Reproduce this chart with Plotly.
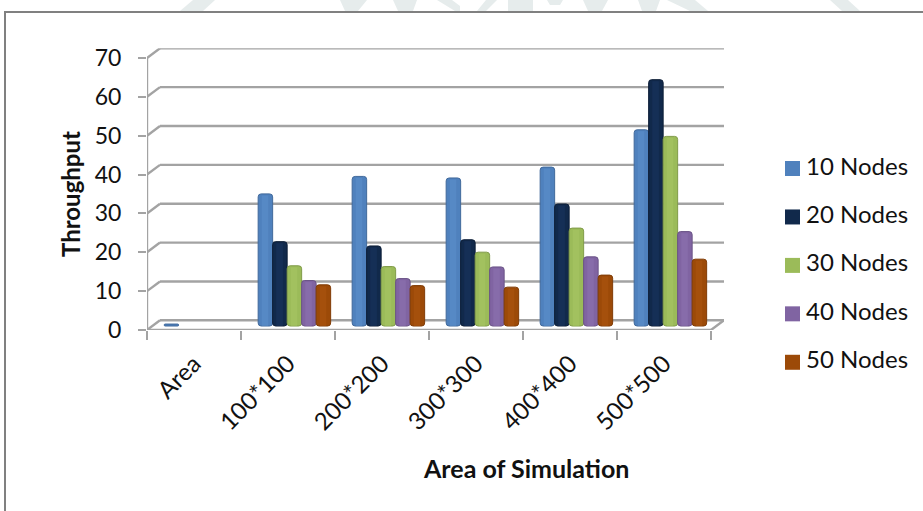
import plotly.graph_objects as go

categories = ["Area", "100*100", "200*200", "300*300", "400*400", "500*500"]
series_names = ["10 Nodes", "20 Nodes", "30 Nodes", "40 Nodes", "50 Nodes"]
nodes_10 = [0.5, 34.0, 38.5, 38.1, 40.9, 50.5]
nodes_20 = [None, 21.7, 20.6, 22.2, 31.4, 63.4]
nodes_30 = [None, 15.5, 15.3, 19.0, 25.2, 48.8]
nodes_40 = [None, 11.7, 12.2, 15.2, 17.8, 24.3]
nodes_50 = [None, 10.6, 10.4, 10.0, 13.1, 17.2]
series_values = [nodes_10, nodes_20, nodes_30, nodes_40, nodes_50]
y_ticks = [0, 10, 20, 30, 40, 50, 60, 70]

colors = ["#4F81BD", "#11294B", "#9BBB59", "#8064A2", "#9C4A08"]
edges = ["#41699B", "#0C1D36", "#809B49", "#6A5386", "#803C06"]
glows = ["#5C8FCC", "#1A3560", "#A8C765", "#8D72B0", "#AD5510"]

W, H = 923, 511
FONT = "Lato"
TEXT = "#111111"
GRID = "#A3A3A3"

# Pixel frame of the plot: front-left corner to back-right corner
px_left, px_right = 147, 724
px_top, px_bottom = 48.3, 330
cat_px = 94.0

# Oblique depth of the pseudo-3D box, in axis units
depth_x = 13 / cat_px
depth_y = 2.5
x_lo, x_hi = -0.5, len(categories) - 0.5
y_max = y_ticks[-1] + depth_y

# Bars stand a little inside the floor
bar_base = 1.03
bar_w = 14.5 / cat_px
bar_shift = 6.4 / cat_px

fig = go.Figure()
x_pos = list(range(len(categories)))

for i, (name, vals) in enumerate(zip(series_names, series_values)):
    off = (i - len(series_names) / 2) * bar_w + bar_shift
    # Body of each cylinder
    fig.add_bar(
        x=x_pos, y=vals, base=bar_base, name=name, width=bar_w, offset=off,
        marker=dict(color=colors[i], line=dict(color=edges[i], width=1), cornerradius=3),
        showlegend=False, hoverinfo="y",
    )
    # Soft highlight down the middle of each cylinder
    fig.add_bar(
        x=x_pos, y=[None if v is None or v < 2 else v - 0.4 for v in vals], base=bar_base,
        width=bar_w * 0.45, offset=off + bar_w * 0.25,
        marker=dict(color=glows[i], line=dict(width=0), opacity=0.55),
        showlegend=False, hoverinfo="skip",
    )
    # Key on the right: a square swatch and its label
    fig.add_scatter(
        x=[0], y=[i], mode="markers", xaxis="x2", yaxis="y2",
        marker=dict(symbol="square", size=15, color=colors[i]),
        cliponaxis=False, showlegend=False, hoverinfo="skip",
    )
    fig.add_scatter(
        x=[0.11], y=[i], mode="text", xaxis="x2", yaxis="y2",
        text=[name], textposition="middle right",
        textfont=dict(family=FONT, size=24, color=TEXT),
        cliponaxis=False, showlegend=False, hoverinfo="skip",
    )

shapes = []


def paper_path(points):
    """Closed path through pixel points, expressed in paper coordinates."""
    parts = [f"{'M' if k == 0 else 'L'} {x / W} {1 - y / H}" for k, (x, y) in enumerate(points)]
    return " ".join(parts) + " Z"


# Faint logo showing above the chart border
logo_pieces = [
    [(180, 11), (193, 0), (215, 0), (203, 11)],
    [(340, 0), (367, 0), (358, 11), (345, 11)],
    [(393, 0), (417, 0), (413, 11), (398, 11)],
    [(437, 0), (452, 0), (460, 6), (460, 11), (455, 11)],
    [(486, 0), (497, 0), (486, 11), (477, 11)],
    [(508, 0), (533, 0), (533, 11), (508, 11)],
    [(547, 0), (563, 0), (560, 5), (550, 5)],
    [(583, 0), (608, 0), (602, 11), (588, 11)],
    [(638, 0), (660, 0), (656, 11), (642, 11)],
    [(667, 0), (695, 0), (708, 11), (690, 11)],
    [(830, 0), (848, 0), (860, 11), (842, 11)],
]
for piece in logo_pieces:
    shapes.append(dict(type="path", xref="paper", yref="paper", layer="below",
                       path=paper_path(piece), fillcolor="#E6ECEC", line=dict(width=0)))

line = dict(color=GRID, width=2.4)
# Back-wall gridlines and the short diagonals that join them to the value axis
for v in y_ticks:
    shapes.append(dict(type="line", xref="x", yref="y", layer="below", line=line,
                       x0=x_lo, y0=v, x1=x_lo + depth_x, y1=v + depth_y))
    shapes.append(dict(type="line", xref="x", yref="y", layer="below", line=line,
                       x0=x_lo + depth_x, y0=v + depth_y, x1=x_hi + depth_x, y1=v + depth_y))
# Value axis, floor front edge and right floor diagonal
shapes.append(dict(type="line", xref="x", yref="y", layer="below", line=line,
                   x0=x_lo, y0=0, x1=x_lo, y1=y_ticks[-1]))
shapes.append(dict(type="line", xref="x", yref="y", layer="below", line=line,
                   x0=x_lo, y0=0, x1=x_hi, y1=0))
shapes.append(dict(type="line", xref="x", yref="y", layer="below", line=line,
                   x0=x_hi, y0=0, x1=x_hi + depth_x, y1=depth_y))
# Outer chart border, open towards the right and bottom of the page
shapes.append(dict(type="path", xref="paper", yref="paper", layer="below",
                   path=f"M {5/W} 0 L {5/W} {1-12/H} L 1 {1-12/H}",
                   line=dict(color="#808080", width=2)))

fig.update_layout(
    width=W, height=H,
    margin=dict(l=0, r=0, t=0, b=0),
    paper_bgcolor="white", plot_bgcolor="rgba(0,0,0,0)",
    barmode="overlay", showlegend=False,
    font=dict(family=FONT, size=23, color=TEXT),
    shapes=shapes,
    xaxis=dict(
        automargin=False,
        domain=[px_left / W, px_right / W],
        range=[x_lo, x_hi + depth_x],
        tickmode="array", tickvals=x_pos, ticktext=categories, tickangle=-45,
        ticks="", showgrid=False, zeroline=False, showline=False,
        ticklabelstandoff=14,
        tickfont=dict(family=FONT, size=24, color=TEXT),
        minor=dict(tickmode="array", tickvals=[p - 0.5 for p in x_pos] + [x_hi],
                   ticks="outside", ticklen=9, tickwidth=2, tickcolor=GRID, showgrid=False),
    ),
    yaxis=dict(
        automargin=False,
        domain=[(H - px_bottom) / H, (H - px_top) / H],
        range=[0, y_max],
        tickmode="array", tickvals=y_ticks, ticks="outside", ticklen=8, tickwidth=2,
        tickcolor=GRID, showgrid=False, zeroline=False, showline=False,
        ticklabelstandoff=12,
        tickfont=dict(family=FONT, size=23, color=TEXT),
    ),
    xaxis2=dict(domain=[792.5 / W, 915 / W], range=[0, 1], visible=False, anchor="y2", automargin=False),
    yaxis2=dict(domain=[(H - 386.5) / H, (H - 144.3) / H], range=[4.5, -0.5], visible=False, anchor="x2", automargin=False),
    annotations=[
        dict(text="<b>Throughput</b>", xref="paper", yref="paper", x=70 / W, y=1 - 194 / H,
             xanchor="center", yanchor="middle",
             textangle=-90, showarrow=False, font=dict(family=FONT, size=24, color=TEXT)),
        dict(text="<b>Area of Simulation</b>", xref="paper", yref="paper", x=526 / W, y=1 - 468 / H,
             xanchor="center", yanchor="middle",
             showarrow=False, font=dict(family=FONT, size=25, color=TEXT)),
    ],
)

fig.write_html("out.html", config=dict(displayModeBar=False))
